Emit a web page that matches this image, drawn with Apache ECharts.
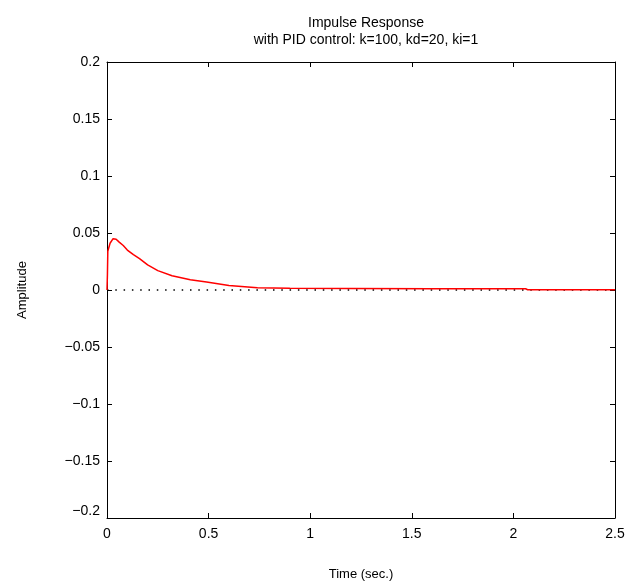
<!DOCTYPE html>
<html>
<head>
<meta charset="utf-8">
<script src="https://cdn.jsdelivr.net/npm/echarts@6/dist/echarts.min.js"></script>
<style>
html,body{margin:0;padding:0;background:#fff;}
#chart{width:629px;height:586px;}
</style>
</head>
<body>
<div id="chart"></div>
<script>
// Data
var timeSec = [0, 0.002, 0.004, 0.015, 0.03, 0.045, 0.06, 0.08, 0.10, 0.13, 0.16, 0.20, 0.25, 0.32, 0.41, 0.49, 0.60, 0.74, 0.9, 1.2, 1.6, 2.06, 2.07, 2.5];
var amplitude = [0, 0.013, 0.034, 0.041, 0.045, 0.0445, 0.042, 0.039, 0.035, 0.031, 0.0275, 0.022, 0.017, 0.0125, 0.009, 0.007, 0.004, 0.002, 0.0015, 0.0013, 0.0012, 0.0011, 0.0002, 0.0002];
var zeroLineX = [0, 2.5];
var zeroLineY = [0, 0];
var xTicks = [0, 0.5, 1, 1.5, 2, 2.5];
var yTicks = [-0.2, -0.15, -0.1, -0.05, 0, 0.05, 0.1, 0.15, 0.2];
var titleLines = ['Impulse Response', 'with PID control: k=100, kd=20, ki=1'];
var xLabel = 'Time (sec.)';
var yLabel = 'Amplitude';

var FONT = 'Liberation Sans, Arial, sans-serif';
var chart = echarts.init(document.getElementById('chart'), null, {renderer: 'canvas'});

function pairs(xs, ys) { return xs.map(function (x, i) { return [x, ys[i]]; }); }
function fmt(v) { return String(Math.round(v * 1000) / 1000).replace('-', '\u2212'); }

function axisBase() {
  return {
    type: 'value',
    axisLine: {show: true, onZero: false, lineStyle: {color: '#000', width: 1}},
    axisTick: {show: true, inside: true, length: 5, lineStyle: {color: '#000', width: 1}},
    splitLine: {show: false}
  };
}

var option = {
  backgroundColor: '#fff',
  animation: false,
  title: {
    text: titleLines.join('\n'),
    left: 361, textAlign: 'center', top: 10,
    textStyle: {fontFamily: FONT, fontSize: 14, fontWeight: 'normal', color: '#000', lineHeight: 17}
  },
  grid: {left: 107, right: 14, top: 62, bottom: 55, containLabel: false},
  xAxis: [
    Object.assign(axisBase(), {
      position: 'bottom', min: xTicks[0], max: xTicks[xTicks.length - 1], interval: 0.5,
      axisLabel: {show: true, margin: 9, fontFamily: FONT, fontSize: 14, color: '#000', formatter: fmt},
      name: xLabel, nameLocation: 'middle', nameGap: 50,
      nameTextStyle: {fontFamily: FONT, fontSize: 13, color: '#000'}
    }),
    Object.assign(axisBase(), {
      position: 'top', min: xTicks[0], max: xTicks[xTicks.length - 1], interval: 0.5,
      axisLabel: {show: false}
    })
  ],
  yAxis: [
    Object.assign(axisBase(), {
      position: 'left', min: yTicks[0], max: yTicks[yTicks.length - 1], interval: 0.05,
      axisLabel: {show: true, margin: 7, fontFamily: FONT, fontSize: 14, color: '#000', formatter: fmt,
        verticalAlignMinLabel: 'bottom'},
      name: yLabel, nameLocation: 'middle', nameGap: 78, nameRotate: 90,
      nameTextStyle: {fontFamily: FONT, fontSize: 13, color: '#000'}
    }),
    Object.assign(axisBase(), {
      position: 'right', min: yTicks[0], max: yTicks[yTicks.length - 1], interval: 0.05,
      axisLabel: {show: false}
    })
  ],
  series: [
    {
      type: 'line', xAxisIndex: 0, yAxisIndex: 0,
      data: pairs(zeroLineX, zeroLineY),
      symbol: 'none', silent: true,
      lineStyle: {color: '#000', width: 1.5, type: [1.5, 6.8]}
    },
    {
      type: 'line', xAxisIndex: 0, yAxisIndex: 0,
      data: pairs(timeSec, amplitude),
      symbol: 'none',
      lineStyle: {color: '#ff0000', width: 1.5}
    }
  ]
};
chart.setOption(option);
</script>
</body>
</html>
